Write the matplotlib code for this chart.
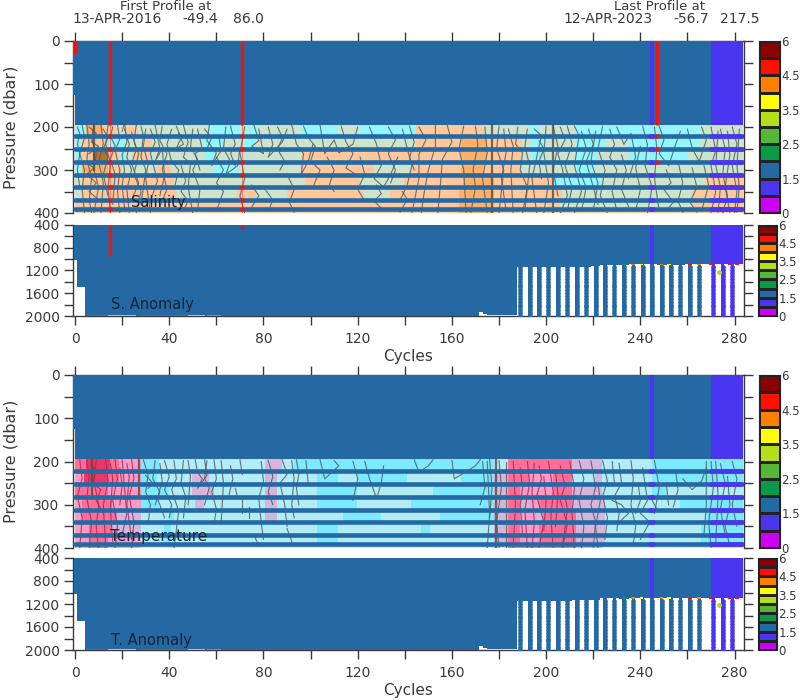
import matplotlib
matplotlib.use("Agg")
import matplotlib.pyplot as plt
import numpy as np
from matplotlib.colors import ListedColormap

W, H = 800, 700
INK = "#3a3a3a"
DARK = "#2468a4"
BLUE = "#4a35f0"
RED = "#ee1510"

# colour scale
CB_LEVELS = [0, 1, 1.5, 2, 2.5, 3, 3.5, 4, 4.5, 5, 6]
CB_COLORS = ["#cc00f5", BLUE, DARK, "#0a9a4a", "#55b835", "#b4de1a",
             "#ffff00", "#ff8000", "#ff1000", "#8b0000"]
CB_LABELS = {6: "6", 4.5: "4.5", 3.5: "3.5", 2.5: "2.5", 1.5: "1.5", 0: "0"}

# pressure layers between the sparse-sampling rows (dbar)
LAYER_EDGES = [195, 221, 251, 281, 312, 340, 370, 391, 401]
ROW_PRESSURES = [221, 251, 281, 312, 340, 370, 391]

# Salinity classes per layer: (first cycle, last cycle, class)
S_COLORS = ["#93f6ff", "#cde3cc", "#ffc79a", "#ffaf66", "#b5742b"]
S_LAYERS = [
    [(0,5,0),(5,12,3),(12,18,2),(18,22,1),(22,27,2),(27,57,1),(57,70,0),(70,73,1),(73,78,0),(78,96,1),(96,112,0),(112,121,1),(121,145,0),(145,174,2),(174,193,1),(193,197,0),(197,213,1),(213,265,0),(265,283.5,1)],
    [(0,3,0),(3,14,2),(14,22,0),(22,30,1),(30,33,2),(33,55,1),(55,63,0),(63,72,1),(72,77,0),(77,145,1),(145,164,2),(164,175,3),(175,190,2),(190,194,1),(194,200,0),(200,213,1),(213,225,0),(225,235,1),(235,265,0),(265,283.5,1)],
    [(0,3,0),(3,8,2),(8,14,4),(14,19,2),(19,22,0),(22,25,1),(25,32,2),(32,56,1),(56,60,0),(60,96,1),(96,164,2),(164,175,3),(175,190,2),(190,194,1),(194,198,0),(198,213,1),(213,222,0),(222,236,1),(236,260,0),(260,283.5,1)],
    [(0,3,0),(3,14,3),(14,20,2),(20,35,1),(35,41,2),(41,59,1),(59,69,0),(69,96,1),(96,127,2),(127,143,1),(143,164,2),(164,174,3),(174,190,2),(190,213,1),(213,221,0),(221,283.5,1)],
    [(0,3,1),(3,42,2),(42,98,1),(98,121,2),(121,140,1),(140,165,2),(165,178,3),(178,193,2),(193,203,2),(203,224,0),(224,268,1),(268,283.5,2)],
    [(0,3,1),(3,43,2),(43,69,1),(69,77,2),(77,90,1),(90,123,2),(123,134,1),(134,163,2),(163,178,3),(178,207,2),(207,262,1),(262,283.5,2)],
    [(0,163,2),(163,178,3),(178,206,2),(206,262,1),(262,283.5,2)],
    [(0,163,2),(163,178,3),(178,283.5,2)],
]

# Temperature classes per layer
T_COLORS = ["#7ce9ff", "#b2ecf4", "#d6b4dc", "#ff9ac6", "#ff6c98", "#ee3565"]
T_LAYERS = [
    [(0,5,4),(5,15,5),(15,19,4),(19,28,3),(28,36,0),(36,81,1),(81,88,2),(88,93,1),(93,150,0),(150,178,0),(178,184,1),(184,189,4),(189,211,4),(211,213,2),(213,224,2),(224,245,1),(245,268,0),(268,283.5,0)],
    [(0,4,3),(4,14,5),(14,19,4),(19,28,3),(28,35,0),(35,50,1),(50,57,2),(57,81,1),(81,86,2),(86,103,1),(103,112,0),(112,120,1),(120,141,0),(141,164,1),(164,178,0),(178,184,2),(184,189,4),(189,193,4),(193,203,3),(203,211,4),(211,221,1),(221,224,2),(224,245,1),(245,283.5,0)],
    [(0,14,4),(14,25,3),(25,28,3),(28,40,0),(40,50,1),(50,59,2),(59,81,1),(81,86,2),(86,103,1),(103,120,0),(120,128,1),(128,152,1),(152,178,0),(178,184,2),(184,189,4),(189,203,3),(203,211,4),(211,224,2),(224,245,1),(245,251,0),(251,283.5,1)],
    [(0,3,3),(3,16,4),(16,28,3),(28,36,0),(36,51,1),(51,55,2),(55,81,1),(81,86,2),(86,103,1),(103,120,0),(120,143,1),(143,178,0),(178,184,2),(184,189,4),(189,193,2),(193,197,3),(197,211,4),(211,225,2),(225,257,1),(257,283.5,0)],
    [(0,3,3),(3,18,4),(18,28,2),(28,40,1),(40,42,0),(42,81,1),(81,86,2),(86,114,1),(114,130,0),(130,155,1),(155,178,0),(178,184,2),(184,189,4),(189,196,3),(196,199,2),(199,213,4),(213,225,2),(225,268,1),(268,283.5,0)],
    [(0,6,3),(6,16,4),(16,28,2),(28,38,1),(38,41,0),(41,103,1),(103,112,0),(112,130,1),(130,147,1),(147,151,0),(151,178,1),(178,184,2),(184,189,4),(189,197,3),(197,213,4),(213,225,2),(225,266,1),(266,283.5,0)],
    [(0,6,3),(6,14,4),(14,28,3),(28,38,1),(38,41,0),(41,103,1),(103,112,0),(112,178,1),(178,184,2),(184,189,4),(189,197,3),(197,213,4),(213,225,2),(225,266,1),(266,283.5,0)],
    [(0,6,3),(6,14,4),(14,28,3),(28,184,1),(184,213,4),(213,224,2),(224,283.5,1)],
]

# isolines: (cycle, dbar)
S_LINES = [
    [(3,195),(4,225),(2,262),(4,300),(3,345),(4,400)], [(5,195),(6,240),(5,275),(7,320),(6,370),(7,400)],
    [(8,195),(7,228),(9,262),(8,300),(10,340),(8,400)], [(11,195),(12,240),(10,280),(12,330),(11,400)],
    [(14,196),(13,240),(15,285),(14,340),(15,400)], [(18,196),(19,228),(17,255),(19,300),(18,350),(19,400)],
    [(21,205),(23,240),(22,270),(24,300),(22,345),(23,400)], [(26,196),(25,232),(27,262),(25,310),(28,350),(26,400)],
    [(30,205),(29,245),(31,285),(30,320),(32,400)], [(34,196),(36,250),(34,280),(37,250),(38,312),(36,360)],
    [(41,205),(39,240),(41,280),(44,300),(42,345)], [(46,196),(48,235),(46,270),(49,285),(48,340),(50,400)],
    [(52,205),(54,250),(51,262),(53,300)], [(57,196),(56,232),(60,260),(58,290),(62,255),(61,220)],
    [(64,200),(63,250),(66,280),(64,310),(69,290),(70,250)], [(72,200),(70,260),(72,320),(70,360),(72,400)],
    [(76,196),(78,232),(75,245),(80,262),(78,205)], [(82,200),(84,240),(82,270),(88,235),(90,205)],
    [(92,196),(94,240),(97,262),(96,310),(99,280),(101,240)], [(104,196),(106,262),(110,230),(112,260),(118,240),(120,200)],
    [(125,200),(128,240),(130,290),(127,320),(131,340),(134,310),(137,270)], [(139,205),(141,250),(143,290),(141,335),(138,370)],
    [(146,200),(149,230),(146,262),(146,320),(143,400)], [(153,195),(153,245),(150,300),(148,360),(147,400)],
    [(158,196),(160,235),(156,275),(155,340),(154,400)], [(165,198),(163,250),(165,300),(166,400)],
    [(170,198),(171,240),(169,300),(170,340),(168,400)], [(174,200),(175,260),(173,320),(175,400)],
    [(180,198),(179,250),(182,300),(180,400)], [(184,205),(186,245),(185,300),(186,400)],
    [(188,200),(187,240),(190,260),(189,300),(192,340),(190,400)], [(195,205),(198,220),(196,270),(194,320),(196,400)],
    [(200,198),(199,260),(201,330),(199,400)], [(206,200),(208,230),(205,262),(207,300),(209,360),(206,400)],
    [(212,198),(214,220),(212,290),(215,350),(212,400)], [(218,205),(220,240),(217,280),(219,320),(222,380)],
    [(224,198),(222,250),(225,300),(223,360),(226,400)], [(230,200),(233,240),(236,215),(238,270),(235,320)],
    [(241,198),(243,240),(242,290),(245,340),(243,400)], [(248,198),(250,230),(248,262),(252,290),(255,240),(257,210)],
    [(260,205),(262,250),(265,280),(268,230),(266,200)], [(270,200),(272,255),(270,290),(272,350),(270,400)],
    [(274,205),(276,250),(275,310),(277,360),(275,400)], [(279,200),(281,240),(279,290),(281,350),(280,400)],
    # second pass: tighter wiggles
    [(1,200),(2,215),(1,240),(2,262),(1,300),(2,340)], [(6,200),(9,215),(7,235),(10,245),(6,262)],
    [(4,280),(8,295),(5,310),(9,330),(6,350),(10,370)], [(12,205),(14,225),(12,250),(14,270),(12,310),(14,360)],
    [(16,200),(15,222),(17,243),(15,275),(17,310),(16,380)], [(20,210),(21,190),(22,235),(20,265),(21,300),(20,335),(21,390)],
    [(24,212),(26,252),(24,285),(27,330),(24,370)], [(28,198),(29,220),(28,270),(30,300),(28,380)],
    [(32,205),(34,235),(32,262),(35,325),(32,372)], [(37,198),(36,232),(39,262),(37,298),(39,345),(36,385)],
    [(43,198),(45,225),(43,250),(46,240),(44,215)], [(45,290),(47,325),(45,350),(48,372),(46,395)],
    [(50,205),(49,245),(52,275),(50,300),(53,345),(52,395)], [(55,205),(58,225),(56,250)], [(60,270),(63,300),(60,330),(63,350),(60,395)],
    [(66,198),(68,240),(66,262),(68,290)], [(75,335),(78,360),(74,395)], [(80,340),(84,370),(82,395)], [(86,200),(88,225),(86,252),(89,280),(87,300)],
    [(90,310),(93,345),(91,375),(93,398)], [(97,198),(99,225),(102,245),(100,280),(104,300),(101,340)], [(107,270),(110,300),(108,335),(110,350)],
    [(113,198),(115,235),(118,262),(115,295),(119,310)], [(121,270),(123,310),(120,345),(123,372)],
    [(128,335),(130,355),(127,372),(131,395)], [(133,200),(136,230),(133,262),(136,300),(134,330)], [(139,350),(141,368),(138,398)],
    [(142,198),(144,235),(142,272),(144,300)], [(182,205),(183,260),(181,320),(183,395)], [(192,205),(191,245),(193,290),(191,395)],
    [(197,232),(199,250),(197,280),(198,320)], [(203,198),(205,245),(203,300),(205,360)], [(209,198),(211,240),(208,290),(211,340),(209,395)],
    [(215,210),(217,250),(214,300),(217,340),(215,395)], [(221,210),(219,280),(222,330),(220,395)], [(227,205),(229,240),(227,270),(230,300),(228,350),(230,395)],
    [(232,265),(234,300),(232,345),(235,385)], [(240,245),(238,295),(240,345),(238,395)], [(246,200),(247,250),(246,320),(248,395)],
    [(251,300),(253,330),(250,345),(254,375),(251,395)], [(256,280),(258,330),(256,372),(258,398)], [(262,295),(264,340),(261,375),(264,398)],
    [(267,290),(269,335),(266,395)], [(273,210),(272,290),(274,340),(273,398)], [(277,210),(278,265),(276,340),(278,398)], [(282,205),(281,290),(282,340),(281,398)],
]
T_LINES = [
    [(29,196),(31,232),(30,270),(32,300),(31,345)],
    [(34,198),(33,240),(36,270),(34,300)], [(38,198),(40,235),(38,265),(41,300),(40,330)],
    [(46,198),(45,250),(47,282),(46,330)], [(51,196),(52,225),(54,240),(52,262),(56,232),(55,196)],
    [(59,196),(60,240),(58,270),(60,310),(59,345)], [(70,196),(71,230)], [(68,262),(69,282)], [(74,305),(74,330)],
    [(79,200),(80,245),(78,285),(79,340),(80,380)], [(88,196),(90,230),(87,250),(89,300),(90,350)],
    [(94,196),(95,230),(94,262),(95,300)], [(104,196),(106,240),(112,210),(110,198)], [(118,200),(120,240),(118,290)],
    [(123,200),(125,240),(128,285),(130,250),(131,210)], [(144,196),(146,225),(150,210),(152,196)],
    [(160,198),(161,240),(170,210),(172,196)], [(173,200),(174,260),(172,300)], [(175,200),(176,320),(175,400)],
    [(180,198),(181,260),(179,340),(180,400)], [(214,198),(216,240),(214,290),(216,350),(215,400)],
    [(219,198),(221,260),(219,300),(221,340),(220,400)],
    [(224,198),(226,245),(224,280),(226,330),(225,380)], [(231,205),(232,250),(229,280),(231,320),(230,360)],
    [(236,198),(237,240),(236,300),(238,350),(237,390)], [(241,215),(243,290),(240,320),(244,340),(240,380)],
    [(251,250),(252,300)], [(258,240),(262,265),(266,245),(268,215)], [(270,200),(271,260),(269,340),(270,400)],
    [(274,205),(276,250),(274,310),(276,370)], [(279,200),(281,240),(279,300),(281,350)],
    # second pass
    [(30,232),(33,250),(31,262)], [(36,205),(37,245),(35,285),(38,330)], [(42,198),(43,240),(41,265),(44,315),(42,400)],
    [(48,198),(49,235),(48,300)], [(56,198),(55,240),(57,260),(55,300)], [(62,198),(63,250),(62,345)], [(66,210),(67,240),(65,285)],
    [(71,280),(71,320)], [(82,198),(84,235),(82,270),(84,300)], [(92,198),(93,240),(92,300),(93,330)], [(98,198),(99,250)],
    [(90,355),(92,385)], [(76,370),(78,395)], [(176,195),(177,260),(176,330)], [(183,200),(183,400)],
    [(246,198),(248,260),(246,320)], [(255,222),(256,265),(254,305)], [(268,200),(268,300),(267,370)], [(272,200),(273,280),(272,390)],
    [(277,235),(278,300),(276,350),(278,395)], [(228,290),(232,300),(235,320),(230,345)], [(239,250),(240,290),(238,320)],
    [(222,250),(223,290),(221,350),(222,400)], [(228,200),(229,250)], [(245,290),(247,310)],
]
# isolines inside the warm patches
T_WARM = [
    [(2,196),(3,240),(1,280),(3,330),(2,400)], [(5,196),(6,235),(5,285),(7,340),(6,400)],
    [(9,196),(8,245),(10,300),(9,350),(10,400)], [(13,196),(14,245),(12,300),(13,400)],
    [(17,196),(18,240),(16,290),(18,350),(17,400)], [(20,196),(21,260),(22,320),(20,370)],
    [(24,196),(25,240),(23,280),(25,340),(24,400)], [(7,205),(9,225),(7,250),(11,265),(9,290),(12,320)],
    [(15,205),(16,240),(15,310),(16,385)], [(19,215),(20,255),(19,300)], [(22,205),(23,235),(22,300),(24,380)],
    [(186,200),(187,300),(186,400)], [(192,200),(193,250),(191,310),(192,400)],
    [(197,210),(198,240),(196,280),(199,340),(197,400)], [(201,200),(203,270),(202,330),(203,400)],
    [(206,210),(208,255),(206,290),(209,345),(207,400)], [(210,200),(212,260),(211,320),(212,400)],
    [(189,215),(190,260),(189,300),(190,370)], [(195,205),(194,270),(195,340),(194,400)], [(199,235),(200,290),(199,360)],
    [(204,225),(205,275),(204,350)], [(208,280),(209,310),(207,395)],
]
S_THICK = [(8, 195, 300), (177, 195, 400), (203, 195, 400)]
T_THICK = [(7, 195, 280), (27, 195, 280), (178.5, 195, 400)]

# deep part: lower limit of data by cycle (from, to, dbar)
DEEP_RUNS = [(-0.4,1,1020),(1,4.3,1497),(4.3,171.5,2000),(171.5,173,1930),(173,175,1965),(175,187.5,1990)]
COLUMN_CYCLES = [189,193,197,201,205,209,213,217,221,225,229,233,237,241,245,249,253,257,261,265,268,271,275,279,282]
COLUMN_LIMITS = [1150,1150,1150,1150,1150,1150,1135,1135,1125,1100,1100,1110,1095,1095,1095,1100,1100,1100,1095,1095,1095,1095,1095,1080,1095]
DEEP_COLUMNS = [189,193,197,201,205,209,213,217,221,225,229,233,237,241,245,249,253,257,261,265,271,275,279]
SAMPLE_DBAR = [1150,1200,1250,1300,1350,1400,1450,1500,1550,1600,1650,1700,1750,1800,1850,1900,1950,2000]
TIP_MARKS = [(233.5,3),(237,7),(240.5,6),(249,7),(252,6),(261,8),(265,7),(270,8),(278,8),(281,8)]
FLOOR_RUNS = [(5,14,3),(14,26,5),(28,48,3),(48,55,5),(56,62,4)]
SOLO_DOT = (273.2, 1226, 5)
BLUE_RUNS = [(244,246),(270,283.5)]
S_RED = [(15,0,195),(71,0,195),(247,0,195),(0,0,30)]
S_RED_RUN = [(15,195,400),(71,195,400)]
S_RED_ROWS = [(15,ROW_PRESSURES),(71,ROW_PRESSURES),(247,ROW_PRESSURES[:3])]
S_RED_DEEP = [(15,400,950),(71,400,480)]

YT_TOP = [0,100,200,300,400]
YT_DEEP = [400,800,1200,1600,2000]
XT_LAB = [0,40,80,120,160,200,240,280]

fig = plt.figure(figsize=(W/100, H/100), dpi=100)
plt.rcParams["font.family"] = "DejaVu Sans"

def box(x0, y0, x1, y1):
    return fig.add_axes([x0/W, 1-y1/H, (x1-x0)/W, (y1-y0)/H])

def style(ax, top):
    ax.set_xlim(-1, 284)
    ax.set_xticks(range(0, 281, 20), minor=False)
    ax.set_xticklabels([str(v) if v in XT_LAB else "" for v in range(0, 281, 20)], fontsize=10, color=INK)
    ax.tick_params(axis="both", direction="out", length=6.5, width=1, color=INK, labelcolor=INK, pad=3)
    ax.tick_params(axis="x", top=top, bottom=not top, labelbottom=not top, pad=5)
    ax.tick_params(axis="y", left=True, right=True)
    for s in ax.spines.values():
        s.set_color(INK); s.set_linewidth(1); s.set_zorder(0.5)
    ax.spines["bottom"].set_visible(not top)
    ax.spines["top"].set_visible(top)
    ax.set_axisbelow(True)

def draw_upper(ax, layers, colors, lines, thick, red, warm=()):
    ax.broken_barh([(-1, 284.5)], (0, 125), facecolor=DARK, zorder=1)
    ax.broken_barh([(-0.2, 283.7)], (125, 70), facecolor=DARK, zorder=1)
    for k, runs in enumerate(layers):
        for a, b, c in runs:
            ax.broken_barh([(a-0.2, b-a+0.2)], (LAYER_EDGES[k], LAYER_EDGES[k+1]-LAYER_EDGES[k]), facecolor=colors[c], zorder=1.2)
    for a, b in BLUE_RUNS:
        ax.broken_barh([(a, b-a)], (0, 195), facecolor=BLUE, zorder=1.3)
    for ln in lines:
        ax.plot([p[0] for p in ln], [p[1] for p in ln], color="#4f5f60", lw=0.8, alpha=0.85, zorder=2)
    for ln in warm:
        ax.plot([p[0] for p in ln], [p[1] for p in ln], color="#a02c50", lw=0.8, alpha=0.85, zorder=2)
    for c, p0, p1 in thick:
        ax.plot([c, c], [p0, p1], color="#5a4a3a", lw=1.6, alpha=0.8, zorder=2.1)
    for p in ROW_PRESSURES:
        ax.plot([0, 283], [p, p], color=DARK, lw=3.3, solid_capstyle="round", zorder=3)
        for a, b in BLUE_RUNS:
            ax.plot([a, b-0.5], [p, p], color=BLUE, lw=3.3, solid_capstyle="round", zorder=3.1)
    if red:
        for c, p0, p1 in S_RED:
            ax.plot([c, c], [p0, p1], color=RED, lw=2.4, solid_capstyle="butt", zorder=3.5)
        for c, p0, p1 in S_RED_RUN:
            ax.plot([c, c], [p0, p1], color=RED, lw=0.6, alpha=0.5, zorder=2.5)
        for c, ps in S_RED_ROWS:
            ax.plot([c]*len(ps), ps, "o", color=RED, ms=3.2, mew=0, zorder=3.6)
    ax.set_ylim(400, 0)
    ax.set_yticks(range(0, 401, 50))
    ax.set_yticklabels([str(v) if v in YT_TOP else "" for v in range(0, 401, 50)], fontsize=10)
    style(ax, True)

def draw_deep(ax, red):
    for a, b, lim in DEEP_RUNS:
        ax.broken_barh([(a, b-a)], (400, lim-400), facecolor=DARK, zorder=1)
    edges = [187.5] + [(u+v)/2 for u, v in zip(COLUMN_CYCLES[:-1], COLUMN_CYCLES[1:])] + [283.5]
    for i, lim in enumerate(COLUMN_LIMITS):
        ax.broken_barh([(edges[i], edges[i+1]-edges[i])], (400, lim-400), facecolor=DARK, zorder=1)
    for c in DEEP_COLUMNS:
        col = BLUE if c >= 270 else DARK
        ax.broken_barh([(c-0.7, 1.4)], (1000, 1000), facecolor=col, zorder=1.1)
        ax.plot([c]*len(SAMPLE_DBAR), SAMPLE_DBAR, "o", color=col, ms=3.4, mew=0, zorder=1.1, clip_on=True)
    for a, b in BLUE_RUNS:
        ax.broken_barh([(a, b-a)], (400, 690), facecolor=BLUE, zorder=1.2)
    for c, k in TIP_MARKS:
        ax.broken_barh([(c-0.8, 1.6)], (1085, 30), facecolor=CB_COLORS[k], zorder=1.5)
    for a, b, k in FLOOR_RUNS:
        ax.broken_barh([(a, b-a)], (1982, 18), facecolor=CB_COLORS[k], zorder=1.5)
    ax.plot([SOLO_DOT[0]], [SOLO_DOT[1]], "o", color=CB_COLORS[SOLO_DOT[2]], ms=3.6, mew=0, zorder=1.6)
    if red:
        for c, p0, p1 in S_RED_DEEP:
            ax.plot([c, c], [p0, p1], color=RED, lw=2.4, solid_capstyle="butt", zorder=3)
    ax.set_ylim(2000, 400)
    ax.set_yticks(range(400, 2001, 200))
    ax.set_yticklabels([str(v) if v in YT_DEEP else "" for v in range(400, 2001, 200)], fontsize=10)
    style(ax, False)

def draw_bar(x0, y0, x1, y1, size):
    ax = box(x0, y0, x1, y1)
    cmap = ListedColormap(CB_COLORS)
    n = len(CB_COLORS)
    ax.pcolormesh([0, 1], np.arange(n+1), np.arange(n).reshape(-1, 1), cmap=cmap, vmin=-0.5, vmax=n-0.5,
                  edgecolors="#222222", linewidth=0.8)
    ax.set_xlim(0, 1); ax.set_ylim(0, n)
    ax.set_xticks([])
    pos = [CB_LEVELS.index(v) for v in CB_LABELS]
    ax.yaxis.tick_right()
    ax.set_yticks(pos)
    ax.set_yticklabels(list(CB_LABELS.values()), fontsize=size, color=INK)
    ax.tick_params(axis="y", length=0, pad=1)
    for s in ax.spines.values():
        s.set_color("#222222"); s.set_linewidth(0.8)

a1 = box(72.7, 41, 744, 213)
draw_upper(a1, S_LAYERS, S_COLORS, S_LINES, S_THICK, True)
a2 = box(72.7, 224.7, 744, 316)
draw_deep(a2, True)
a3 = box(72.7, 375, 744, 548)
draw_upper(a3, T_LAYERS, T_COLORS, T_LINES, T_THICK, False, T_WARM)
a4 = box(72.7, 558, 744, 650)
draw_deep(a4, False)
draw_bar(759, 41, 780, 213, 8.5)
draw_bar(758, 224.7, 777, 316, 8.5)
draw_bar(759, 375, 780, 548, 8.5)
draw_bar(758, 558, 777, 650, 8.5)

def px(x, y, s, **kw):
    kw.setdefault("color", INK)
    kw.setdefault("va", "center")
    fig.text(x/W, 1-y/H, s, **kw)

px(166, 6, "First Profile at", ha="center", fontsize=9.5)
px(72, 19, "13-APR-2016", ha="left", fontsize=10)
px(182, 19, "-49.4", ha="left", fontsize=10)
px(233, 19, "86.0", ha="left", fontsize=10)
px(659, 6, "Last Profile at", ha="center", fontsize=9.5)
px(563, 19, "12-APR-2023", ha="left", fontsize=10)
px(673, 19, "-56.7", ha="left", fontsize=10)
px(720, 19, "217.5", ha="left", fontsize=10)
px(11, 127, "Pressure (dbar)", rotation=90, ha="center", fontsize=11.5)
px(11, 461, "Pressure (dbar)", rotation=90, ha="center", fontsize=11.5)
px(408, 357, "Cycles", ha="center", fontsize=11)
px(408, 691, "Cycles", ha="center", fontsize=11)
LAB = "#162436"
px(131, 202, "Salinity", ha="left", fontsize=10.5, color=LAB, zorder=10)
px(111, 305, "S. Anomaly", ha="left", fontsize=10.5, color=LAB, zorder=10)
px(110, 537, "Temperature", ha="left", fontsize=11, color=LAB, zorder=10)
px(111, 640, "T. Anomaly", ha="left", fontsize=10.5, color=LAB, zorder=10)

fig.savefig("out.png", dpi=100)
